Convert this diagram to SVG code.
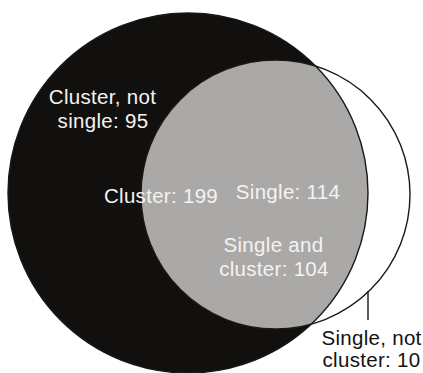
<svg xmlns="http://www.w3.org/2000/svg" width="423" height="373" viewBox="0 0 423 373">
  <style>
    .lbl { font-family: "Liberation Sans", Arial, sans-serif; font-size: 20.5px; letter-spacing: 0.3px; text-anchor: middle; }
    .light { fill: #f4f3f2; }
    .dark { fill: #141210; }
    .edge { fill: none; stroke: #1a1816; stroke-width: 1.4; }
  </style>
  <defs>
    <clipPath id="clusterClip">
      <circle cx="188" cy="193" r="180"/>
    </clipPath>
  </defs>
  <rect width="423" height="373" fill="#ffffff"/>
  <g id="cluster">
    <circle cx="188" cy="193" r="180" fill="#12100e"/>
  </g>
  <g id="single">
    <circle cx="275.5" cy="194.5" r="134.5" fill="#ffffff"/>
  </g>
  <g id="intersection">
    <circle cx="275.5" cy="194.5" r="134.5" fill="#aba9a7" clip-path="url(#clusterClip)"/>
  </g>
  <g id="connectors">
    <circle class="edge" cx="275.5" cy="194.5" r="134.5"/>
    <circle class="edge" cx="188" cy="193" r="180"/>
    <line class="edge" x1="368" y1="291" x2="368" y2="320" stroke-width="1"/>
  </g>
  <g id="label-cluster-not-single">
    <text class="lbl light" x="102.5" y="104">Cluster, not</text>
    <text class="lbl light" x="103" y="128">single: 95</text>
  </g>
  <g id="label-cluster">
    <text class="lbl light" x="161" y="203">Cluster: 199</text>
  </g>
  <g id="label-single">
    <text class="lbl light" x="288" y="199">Single: 114</text>
  </g>
  <g id="label-both">
    <text class="lbl light" x="273.5" y="252">Single and</text>
    <text class="lbl light" x="274" y="276">cluster: 104</text>
  </g>
  <g id="label-single-not-cluster">
    <text class="lbl dark" x="371.5" y="345">Single, not</text>
    <text class="lbl dark" x="371.5" y="367">cluster: 10</text>
  </g>
</svg>
